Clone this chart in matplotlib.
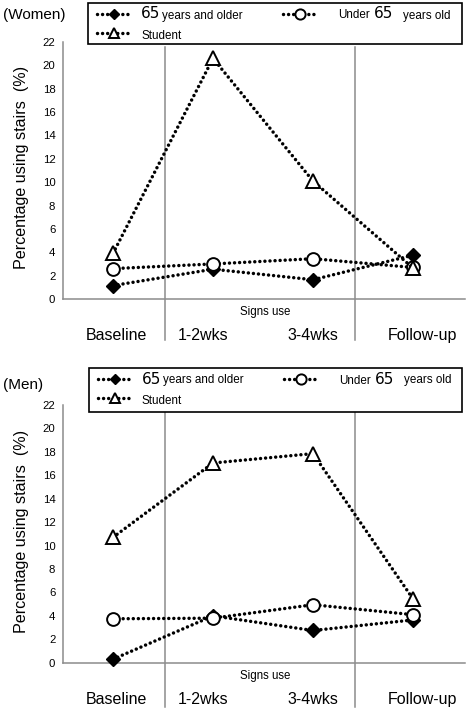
import matplotlib
matplotlib.use('Agg')
import matplotlib.pyplot as plt
from matplotlib.lines import Line2D
from matplotlib.patches import Rectangle
import matplotlib.transforms as mtransforms

plt.rcParams['font.family'] = ['Liberation Sans', 'DejaVu Sans']

# ---------------- data ----------------
categories = ['Baseline', '1-2wks', '3-4wks', 'Follow-up']
women_older = [1.15, 2.55, 1.65, 3.75]
women_under = [2.6, 3.0, 3.45, 2.7]
women_student = [3.9, 20.6, 10.1, 2.65]
men_older = [0.3, 4.0, 2.75, 3.65]
men_under = [3.75, 3.8, 4.95, 4.1]
men_student = [10.7, 17.05, 17.85, 5.45]
yticks = list(range(0, 23, 2))
panel_titles = ['(Women)', '(Men)']
ylabel = 'Percentage using stairs  (%)'
xlabel_mid = 'Signs use'

W, H = 466, 714
GRAY = '#8c8c8c'
DOT = (0, (0.01, 1.45))
LW = 2.5

fig = plt.figure(figsize=(W / 100, H / 100), dpi=100)


def fx(px):
    return px / W


def fy(py):
    return 1 - py / H


def styles():
    return [
        dict(marker='D', ms=6.8, mfc='black', mec='black', mew=1.0),
        dict(marker='o', ms=9.2, mfc='white', mec='black', mew=1.4),
        dict(marker='^', ms=9.5, mfc='white', mec='black', mew=1.4),
    ]


def draw_panel(rect, series, title, title_y, box, vtop, vbot):
    ax = fig.add_axes(rect)
    x = list(range(len(categories)))
    for vals, st in zip(series, styles()):
        ax.plot(x, vals, color='black', lw=LW, ls=DOT, dash_capstyle='round',
                clip_on=False, zorder=3, **st)
    ax.set_xlim(-0.5, 3.52)
    ax.set_ylim(0, 22)
    ax.set_yticks(yticks)
    ax.set_yticklabels([str(t) for t in yticks], fontsize=8.2)
    ax.tick_params(axis='y', length=0, pad=5.5)
    ax.set_xticks(x)
    ax.set_xticklabels(categories, fontsize=11.5)
    ax.tick_params(axis='x', length=0, pad=21)
    offsets = [3, -10, 0, 9]
    for lab, dx in zip(ax.get_xticklabels(), offsets):
        lab.set_transform(lab.get_transform() +
                          mtransforms.ScaledTranslation(dx / 100, 0, fig.dpi_scale_trans))
    for s in ['top', 'right']:
        ax.spines[s].set_visible(False)
    for s in ['left', 'bottom']:
        ax.spines[s].set_color(GRAY)
        ax.spines[s].set_linewidth(1.1)
    for sx in [0.52, 2.42]:
        ax.axvline(sx, ymin=vbot, ymax=vtop, color=GRAY, lw=1.1, clip_on=False, zorder=1)
    ax.annotate(xlabel_mid, xy=(1.52, 0), xycoords=('data', 'axes fraction'),
                xytext=(0, -9.5), textcoords='offset points', ha='center', va='center',
                fontsize=8.3)
    ax.text(-0.102, 0.51, ylabel, transform=ax.transAxes, rotation=90,
            ha='center', va='center', fontsize=11.6)
    fig.text(fx(3), fy(title_y), title, ha='left', va='center', fontsize=11)

    # legend box
    bx, by, bx2, by2 = box
    fig.add_artist(Rectangle((fx(bx), fy(by2)), fx(bx2) - fx(bx), fy(by) - fy(by2),
                             transform=fig.transFigure, facecolor='white',
                             edgecolor='black', lw=1.2, zorder=5))
    st = styles()
    handles = [(9, 42, 25.5, 10.7, st[0]), (195, 227, 212, 10.7, st[1]),
               (9, 42, 25.5, 30.3, st[2])]
    for x0, x1, xm, dy, s in handles:
        s = dict(s)
        s['ms'] = s['ms'] * 0.8
        fig.add_artist(Line2D([fx(bx + x0), fx(bx + x1)], [fy(by + dy)] * 2,
                              transform=fig.transFigure, color='black', lw=LW, ls=DOT,
                              dash_capstyle='round', zorder=6))
        fig.add_artist(Line2D([fx(bx + xm)], [fy(by + dy)], transform=fig.transFigure,
                              ls='none', zorder=7, **s))
    small = 8.4
    big = dict(fontsize=11, family=['DejaVu Sans'])
    texts = [(53, 15.5, '65', big), (74, 15.5, 'years and older', dict(fontsize=small)),
             (250, 15.5, 'Under', dict(fontsize=small)), (286, 15.5, '65', big),
             (315, 15.5, 'years old', dict(fontsize=small)),
             (53, 36.3, 'Student', dict(fontsize=small))]
    for dx, dy, t, kw in texts:
        fig.text(fx(bx + dx), fy(by + dy), t, ha='left', va='baseline', zorder=8, **kw)
    return ax


draw_panel([fx(63), fy(299), fx(465) - fx(63), fy(42) - fy(299)],
           [women_older, women_under, women_student], panel_titles[0], 15,
           (88, 3, 462, 44), 0.98, -0.16)
draw_panel([fx(63), fy(662.7), fx(465) - fx(63), fy(405) - fy(662.7)],
           [men_older, men_under, men_student], panel_titles[1], 385,
           (89, 368, 462, 412), 0.971, -0.173)

fig.savefig('out.png', dpi=100)
